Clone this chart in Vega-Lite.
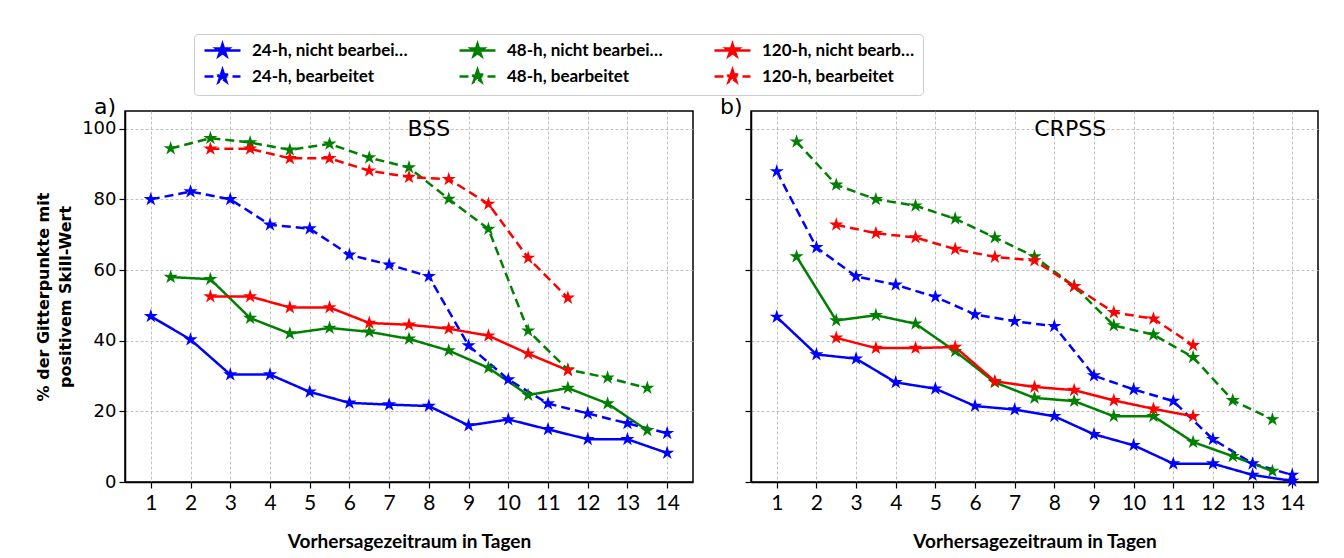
{
  "$schema": "https://vega.github.io/schema/vega-lite/v6.json",
  "padding": {"left": 34, "top": 33, "right": 20, "bottom": 5},
  "background": "white",
  "bounds": "flush",
  "spacing": 58,
  "data": {"values": [
      {"p":"BSS","s":"24-h, nicht bearbeitet","t":1,"v":46.9},{"p":"BSS","s":"24-h, nicht bearbeitet","t":2,"v":40.3},{"p":"BSS","s":"24-h, nicht bearbeitet","t":3,"v":30.4},{"p":"BSS","s":"24-h, nicht bearbeitet","t":4,"v":30.4},{"p":"BSS","s":"24-h, nicht bearbeitet","t":5,"v":25.5},{"p":"BSS","s":"24-h, nicht bearbeitet","t":6,"v":22.4},{"p":"BSS","s":"24-h, nicht bearbeitet","t":7,"v":21.9},{"p":"BSS","s":"24-h, nicht bearbeitet","t":8,"v":21.5},{"p":"BSS","s":"24-h, nicht bearbeitet","t":9,"v":16.0},{"p":"BSS","s":"24-h, nicht bearbeitet","t":10,"v":17.7},{"p":"BSS","s":"24-h, nicht bearbeitet","t":11,"v":14.9},{"p":"BSS","s":"24-h, nicht bearbeitet","t":12,"v":12.1},{"p":"BSS","s":"24-h, nicht bearbeitet","t":13,"v":12.1},{"p":"BSS","s":"24-h, nicht bearbeitet","t":14,"v":8.2},
      {"p":"BSS","s":"24-h, bearbeitet","t":1,"v":80.0},{"p":"BSS","s":"24-h, bearbeitet","t":2,"v":82.2},{"p":"BSS","s":"24-h, bearbeitet","t":3,"v":80.0},{"p":"BSS","s":"24-h, bearbeitet","t":4,"v":72.8},{"p":"BSS","s":"24-h, bearbeitet","t":5,"v":71.7},{"p":"BSS","s":"24-h, bearbeitet","t":6,"v":64.3},{"p":"BSS","s":"24-h, bearbeitet","t":7,"v":61.5},{"p":"BSS","s":"24-h, bearbeitet","t":8,"v":58.2},{"p":"BSS","s":"24-h, bearbeitet","t":9,"v":38.6},{"p":"BSS","s":"24-h, bearbeitet","t":10,"v":29.0},{"p":"BSS","s":"24-h, bearbeitet","t":11,"v":22.2},{"p":"BSS","s":"24-h, bearbeitet","t":12,"v":19.4},{"p":"BSS","s":"24-h, bearbeitet","t":13,"v":16.6},{"p":"BSS","s":"24-h, bearbeitet","t":14,"v":13.8},
      {"p":"BSS","s":"48-h, nicht bearbeitet","t":1.5,"v":58.0},{"p":"BSS","s":"48-h, nicht bearbeitet","t":2.5,"v":57.4},{"p":"BSS","s":"48-h, nicht bearbeitet","t":3.5,"v":46.4},{"p":"BSS","s":"48-h, nicht bearbeitet","t":4.5,"v":42.0},{"p":"BSS","s":"48-h, nicht bearbeitet","t":5.5,"v":43.6},{"p":"BSS","s":"48-h, nicht bearbeitet","t":6.5,"v":42.5},{"p":"BSS","s":"48-h, nicht bearbeitet","t":7.5,"v":40.5},{"p":"BSS","s":"48-h, nicht bearbeitet","t":8.5,"v":37.2},{"p":"BSS","s":"48-h, nicht bearbeitet","t":9.5,"v":32.3},{"p":"BSS","s":"48-h, nicht bearbeitet","t":10.5,"v":24.6},{"p":"BSS","s":"48-h, nicht bearbeitet","t":11.5,"v":26.6},{"p":"BSS","s":"48-h, nicht bearbeitet","t":12.5,"v":22.2},{"p":"BSS","s":"48-h, nicht bearbeitet","t":13.5,"v":14.6},
      {"p":"BSS","s":"48-h, bearbeitet","t":1.5,"v":94.4},{"p":"BSS","s":"48-h, bearbeitet","t":2.5,"v":97.3},{"p":"BSS","s":"48-h, bearbeitet","t":3.5,"v":96.1},{"p":"BSS","s":"48-h, bearbeitet","t":4.5,"v":94.0},{"p":"BSS","s":"48-h, bearbeitet","t":5.5,"v":95.7},{"p":"BSS","s":"48-h, bearbeitet","t":6.5,"v":91.8},{"p":"BSS","s":"48-h, bearbeitet","t":7.5,"v":89.0},{"p":"BSS","s":"48-h, bearbeitet","t":8.5,"v":80.1},{"p":"BSS","s":"48-h, bearbeitet","t":9.5,"v":71.6},{"p":"BSS","s":"48-h, bearbeitet","t":10.5,"v":42.8},{"p":"BSS","s":"48-h, bearbeitet","t":11.5,"v":31.8},{"p":"BSS","s":"48-h, bearbeitet","t":12.5,"v":29.5},{"p":"BSS","s":"48-h, bearbeitet","t":13.5,"v":26.6},
      {"p":"BSS","s":"120-h, nicht bearbeitet","t":2.5,"v":52.5},{"p":"BSS","s":"120-h, nicht bearbeitet","t":3.5,"v":52.5},{"p":"BSS","s":"120-h, nicht bearbeitet","t":4.5,"v":49.4},{"p":"BSS","s":"120-h, nicht bearbeitet","t":5.5,"v":49.4},{"p":"BSS","s":"120-h, nicht bearbeitet","t":6.5,"v":45.0},{"p":"BSS","s":"120-h, nicht bearbeitet","t":7.5,"v":44.5},{"p":"BSS","s":"120-h, nicht bearbeitet","t":8.5,"v":43.4},{"p":"BSS","s":"120-h, nicht bearbeitet","t":9.5,"v":41.4},{"p":"BSS","s":"120-h, nicht bearbeitet","t":10.5,"v":36.3},{"p":"BSS","s":"120-h, nicht bearbeitet","t":11.5,"v":31.6},
      {"p":"BSS","s":"120-h, bearbeitet","t":2.5,"v":94.3},{"p":"BSS","s":"120-h, bearbeitet","t":3.5,"v":94.3},{"p":"BSS","s":"120-h, bearbeitet","t":4.5,"v":91.6},{"p":"BSS","s":"120-h, bearbeitet","t":5.5,"v":91.6},{"p":"BSS","s":"120-h, bearbeitet","t":6.5,"v":88.1},{"p":"BSS","s":"120-h, bearbeitet","t":7.5,"v":86.3},{"p":"BSS","s":"120-h, bearbeitet","t":8.5,"v":85.7},{"p":"BSS","s":"120-h, bearbeitet","t":9.5,"v":78.7},{"p":"BSS","s":"120-h, bearbeitet","t":10.5,"v":63.4},{"p":"BSS","s":"120-h, bearbeitet","t":11.5,"v":52.1},
      {"p":"CRPSS","s":"24-h, nicht bearbeitet","t":1,"v":46.7},{"p":"CRPSS","s":"24-h, nicht bearbeitet","t":2,"v":36.1},{"p":"CRPSS","s":"24-h, nicht bearbeitet","t":3,"v":34.9},{"p":"CRPSS","s":"24-h, nicht bearbeitet","t":4,"v":28.2},{"p":"CRPSS","s":"24-h, nicht bearbeitet","t":5,"v":26.4},{"p":"CRPSS","s":"24-h, nicht bearbeitet","t":6,"v":21.5},{"p":"CRPSS","s":"24-h, nicht bearbeitet","t":7,"v":20.5},{"p":"CRPSS","s":"24-h, nicht bearbeitet","t":8,"v":18.6},{"p":"CRPSS","s":"24-h, nicht bearbeitet","t":9,"v":13.5},{"p":"CRPSS","s":"24-h, nicht bearbeitet","t":10,"v":10.4},{"p":"CRPSS","s":"24-h, nicht bearbeitet","t":11,"v":5.2},{"p":"CRPSS","s":"24-h, nicht bearbeitet","t":12,"v":5.2},{"p":"CRPSS","s":"24-h, nicht bearbeitet","t":13,"v":2.0},{"p":"CRPSS","s":"24-h, nicht bearbeitet","t":14,"v":0.3},
      {"p":"CRPSS","s":"24-h, bearbeitet","t":1,"v":87.9},{"p":"CRPSS","s":"24-h, bearbeitet","t":2,"v":66.4},{"p":"CRPSS","s":"24-h, bearbeitet","t":3,"v":58.2},{"p":"CRPSS","s":"24-h, bearbeitet","t":4,"v":55.8},{"p":"CRPSS","s":"24-h, bearbeitet","t":5,"v":52.4},{"p":"CRPSS","s":"24-h, bearbeitet","t":6,"v":47.4},{"p":"CRPSS","s":"24-h, bearbeitet","t":7,"v":45.5},{"p":"CRPSS","s":"24-h, bearbeitet","t":8,"v":44.1},{"p":"CRPSS","s":"24-h, bearbeitet","t":9,"v":30.1},{"p":"CRPSS","s":"24-h, bearbeitet","t":10,"v":26.2},{"p":"CRPSS","s":"24-h, bearbeitet","t":11,"v":22.9},{"p":"CRPSS","s":"24-h, bearbeitet","t":12,"v":12.1},{"p":"CRPSS","s":"24-h, bearbeitet","t":13,"v":5.2},{"p":"CRPSS","s":"24-h, bearbeitet","t":14,"v":2.0},
      {"p":"CRPSS","s":"48-h, nicht bearbeitet","t":1.5,"v":63.8},{"p":"CRPSS","s":"48-h, nicht bearbeitet","t":2.5,"v":45.7},{"p":"CRPSS","s":"48-h, nicht bearbeitet","t":3.5,"v":47.2},{"p":"CRPSS","s":"48-h, nicht bearbeitet","t":4.5,"v":44.8},{"p":"CRPSS","s":"48-h, nicht bearbeitet","t":5.5,"v":37.0},{"p":"CRPSS","s":"48-h, nicht bearbeitet","t":6.5,"v":28.2},{"p":"CRPSS","s":"48-h, nicht bearbeitet","t":7.5,"v":23.8},{"p":"CRPSS","s":"48-h, nicht bearbeitet","t":8.5,"v":22.9},{"p":"CRPSS","s":"48-h, nicht bearbeitet","t":9.5,"v":18.6},{"p":"CRPSS","s":"48-h, nicht bearbeitet","t":10.5,"v":18.6},{"p":"CRPSS","s":"48-h, nicht bearbeitet","t":11.5,"v":11.3},{"p":"CRPSS","s":"48-h, nicht bearbeitet","t":12.5,"v":7.3},{"p":"CRPSS","s":"48-h, nicht bearbeitet","t":13.5,"v":3.1},
      {"p":"CRPSS","s":"48-h, bearbeitet","t":1.5,"v":96.3},{"p":"CRPSS","s":"48-h, bearbeitet","t":2.5,"v":84.1},{"p":"CRPSS","s":"48-h, bearbeitet","t":3.5,"v":80.0},{"p":"CRPSS","s":"48-h, bearbeitet","t":4.5,"v":78.2},{"p":"CRPSS","s":"48-h, bearbeitet","t":5.5,"v":74.5},{"p":"CRPSS","s":"48-h, bearbeitet","t":6.5,"v":69.2},{"p":"CRPSS","s":"48-h, bearbeitet","t":7.5,"v":63.8},{"p":"CRPSS","s":"48-h, bearbeitet","t":8.5,"v":55.4},{"p":"CRPSS","s":"48-h, bearbeitet","t":9.5,"v":44.3},{"p":"CRPSS","s":"48-h, bearbeitet","t":10.5,"v":41.7},{"p":"CRPSS","s":"48-h, bearbeitet","t":11.5,"v":35.3},{"p":"CRPSS","s":"48-h, bearbeitet","t":12.5,"v":23.1},{"p":"CRPSS","s":"48-h, bearbeitet","t":13.5,"v":17.7},
      {"p":"CRPSS","s":"120-h, nicht bearbeitet","t":2.5,"v":40.8},{"p":"CRPSS","s":"120-h, nicht bearbeitet","t":3.5,"v":37.9},{"p":"CRPSS","s":"120-h, nicht bearbeitet","t":4.5,"v":37.9},{"p":"CRPSS","s":"120-h, nicht bearbeitet","t":5.5,"v":38.2},{"p":"CRPSS","s":"120-h, nicht bearbeitet","t":6.5,"v":28.5},{"p":"CRPSS","s":"120-h, nicht bearbeitet","t":7.5,"v":26.9},{"p":"CRPSS","s":"120-h, nicht bearbeitet","t":8.5,"v":26.0},{"p":"CRPSS","s":"120-h, nicht bearbeitet","t":9.5,"v":23.1},{"p":"CRPSS","s":"120-h, nicht bearbeitet","t":10.5,"v":20.7},{"p":"CRPSS","s":"120-h, nicht bearbeitet","t":11.5,"v":18.6},
      {"p":"CRPSS","s":"120-h, bearbeitet","t":2.5,"v":72.8},{"p":"CRPSS","s":"120-h, bearbeitet","t":3.5,"v":70.4},{"p":"CRPSS","s":"120-h, bearbeitet","t":4.5,"v":69.2},{"p":"CRPSS","s":"120-h, bearbeitet","t":5.5,"v":65.9},{"p":"CRPSS","s":"120-h, bearbeitet","t":6.5,"v":63.7},{"p":"CRPSS","s":"120-h, bearbeitet","t":7.5,"v":62.7},{"p":"CRPSS","s":"120-h, bearbeitet","t":8.5,"v":55.4},{"p":"CRPSS","s":"120-h, bearbeitet","t":9.5,"v":48.0},{"p":"CRPSS","s":"120-h, bearbeitet","t":10.5,"v":46.2},{"p":"CRPSS","s":"120-h, bearbeitet","t":11.5,"v":38.7}
  ]},
  "hconcat": [
    {
      "width": 568, "height": 371,
      "title": {"text": "a)", "anchor": "start", "frame": "group", "offset": -8, "dx": -31, "fontSize": 22, "fontWeight": "normal", "font": "DejaVu Sans", "color": "black"},
      "layer": [
        {
          "transform": [{"filter": {"field": "p", "equal": "BSS"}}],
          "mark": {"type": "line", "strokeWidth": 2.5},
          "encoding": {
            "x": {"field": "t", "type": "quantitative", "scale": {"domain": [0.35, 14.65], "nice": false},
                  "axis": {"values": [1,2,3,4,5,6,7,8,9,10,11,12,13,14], "title": "Vorhersagezeitraum in Tagen", "labelFont": "Lato", "labelFontSize": 21, "labelPadding": 4, "titleFont": "Lato", "titleFontSize": 19, "titleFontWeight": "bold", "titlePadding": 19}},
            "y": {"field": "v", "type": "quantitative", "scale": {"domain": [0, 105], "nice": false},
                  "axis": {"values": [0,20,40,60,80,100], "title": ["% der Gitterpunkte mit", "positivem Skill-Wert"], "labelFont": "DejaVu Sans", "labelFontSize": 18, "labelPadding": 3, "titleFont": "DejaVu Sans", "titleFontSize": 16, "titleFontWeight": "bold", "titlePadding": 8, "titleLineHeight": 22}},
            "color": {"field": "s", "type": "nominal",
                      "scale": {"domain": ["24-h, nicht bearbeitet", "48-h, nicht bearbeitet", "120-h, nicht bearbeitet", "24-h, bearbeitet", "48-h, bearbeitet", "120-h, bearbeitet"],
                                "range": ["#0000ff", "#008000", "#ff0000", "#0000ff", "#008000", "#ff0000"]},
                      "legend": {"orient": "none", "legendX": 69, "legendY": -77, "direction": "horizontal", "columns": 3, "title": null,
                                 "symbolType": "M-1,0L5,0M2,-1.1L2.247,-0.34L3.046,-0.34L2.399,0.13L2.647,0.89L2,0.42L1.353,0.89L1.601,0.13L0.954,-0.34L1.753,-0.34Z",
                                 "symbolSize": 144, "symbolStrokeWidth": 2.5, "labelFont": "Lato", "labelFontSize": 17, "labelFontWeight": "bold", "labelColor": "black",
                                 "labelOffset": 33, "columnPadding": 46, "rowPadding": 3, "padding": 8,
                                 "strokeColor": "#cccccc", "fillColor": "white", "cornerRadius": 4,
                                 "encode": {"symbols": {"update": {"fill": {"scale": "color", "field": "value"}, "stroke": {"scale": "color", "field": "value"}}}}}},
            "strokeDash": {"field": "s", "type": "nominal",
                           "scale": {"domain": ["24-h, nicht bearbeitet", "48-h, nicht bearbeitet", "120-h, nicht bearbeitet", "24-h, bearbeitet", "48-h, bearbeitet", "120-h, bearbeitet"],
                                     "range": [[1,0],[1,0],[1,0],[9,5],[9,5],[9,5]]}}
          }
        },
        {
          "transform": [{"filter": {"field": "p", "equal": "BSS"}}],
          "mark": {"type": "point", "shape": "M0,-1L0.2245,-0.309L0.951,-0.309L0.363,0.118L0.588,0.809L0,0.382L-0.588,0.809L-0.363,0.118L-0.951,-0.309L-0.2245,-0.309Z", "filled": true, "size": 220, "opacity": 1},
          "encoding": {
            "x": {"field": "t", "type": "quantitative"},
            "y": {"field": "v", "type": "quantitative"},
            "color": {"field": "s", "type": "nominal"}
          }
        },
        {
          "data": {"values": [{}]},
          "mark": {"type": "text", "fontSize": 22, "font": "DejaVu Sans", "color": "black", "baseline": "middle", "align": "center"},
          "encoding": {"x": {"datum": 8}, "y": {"datum": 99.8}, "text": {"value": "BSS"}}
        }
      ]
    },
    {
      "width": 567, "height": 371,
      "title": {"text": "b)", "anchor": "start", "frame": "group", "offset": -8, "dx": -31, "fontSize": 22, "fontWeight": "normal", "font": "DejaVu Sans", "color": "black"},
      "layer": [
        {
          "transform": [{"filter": {"field": "p", "equal": "CRPSS"}}],
          "mark": {"type": "line", "strokeWidth": 2.5},
          "encoding": {
            "x": {"field": "t", "type": "quantitative", "scale": {"domain": [0.35, 14.65], "nice": false},
                  "axis": {"values": [1,2,3,4,5,6,7,8,9,10,11,12,13,14], "title": "Vorhersagezeitraum in Tagen", "labelFont": "Lato", "labelFontSize": 21, "labelPadding": 4, "titleFont": "Lato", "titleFontSize": 19, "titleFontWeight": "bold", "titlePadding": 19}},
            "y": {"field": "v", "type": "quantitative", "scale": {"domain": [0, 105], "nice": false},
                  "axis": {"values": [0,20,40,60,80,100], "title": null, "labels": false}},
            "color": {"field": "s", "type": "nominal"},
            "strokeDash": {"field": "s", "type": "nominal"}
          }
        },
        {
          "transform": [{"filter": {"field": "p", "equal": "CRPSS"}}],
          "mark": {"type": "point", "shape": "M0,-1L0.2245,-0.309L0.951,-0.309L0.363,0.118L0.588,0.809L0,0.382L-0.588,0.809L-0.363,0.118L-0.951,-0.309L-0.2245,-0.309Z", "filled": true, "size": 220, "opacity": 1},
          "encoding": {
            "x": {"field": "t", "type": "quantitative"},
            "y": {"field": "v", "type": "quantitative"},
            "color": {"field": "s", "type": "nominal"}
          }
        },
        {
          "data": {"values": [{}]},
          "mark": {"type": "text", "fontSize": 22, "font": "DejaVu Sans", "color": "black", "baseline": "middle", "align": "center"},
          "encoding": {"x": {"datum": 8.4}, "y": {"datum": 99.8}, "text": {"value": "CRPSS"}}
        }
      ]
    }
  ],
  "config": {
    "view": {"stroke": "black", "strokeWidth": 1.5},
    "axis": {"gridColor": "#b0b0b0", "gridDash": [3, 2], "gridWidth": 0.8, "domainColor": "black", "domainWidth": 1.5, "tickColor": "black", "tickWidth": 1.2, "tickSize": 6, "labelColor": "black", "titleColor": "black"}
  }
}
